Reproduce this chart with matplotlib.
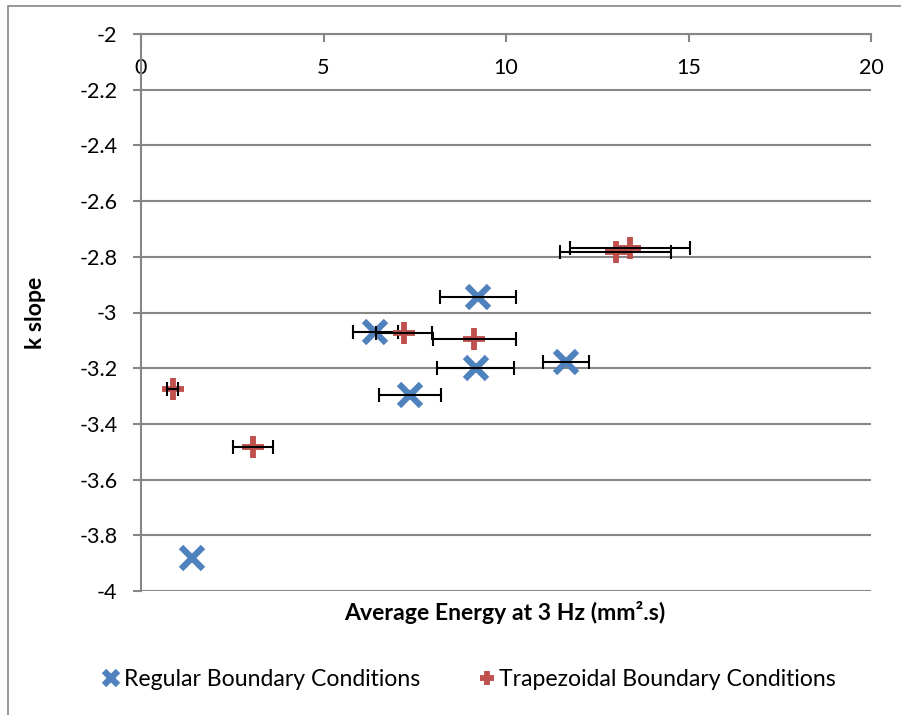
import numpy as np
import matplotlib.pyplot as plt
from matplotlib.patches import Rectangle

# Regular boundary conditions
reg_x = [1.41, 6.42, 7.38, 9.24, 9.17, 11.64]
reg_y = [-3.883, -3.071, -3.296, -2.945, -3.199, -3.179]
reg_xerr = [0.0, 0.62, 0.85, 1.04, 1.06, 0.63]

# Trapezoidal boundary conditions
trap_x = [0.87, 3.06, 7.21, 9.13, 13.0, 13.39]
trap_y = [-3.275, -3.483, -3.075, -3.095, -2.784, -2.770]
trap_xerr = [0.15, 0.55, 0.77, 1.14, 1.53, 1.64]

x_ticks = [0, 5, 10, 15, 20]
y_ticks = [-2, -2.2, -2.4, -2.6, -2.8, -3, -3.2, -3.4, -3.6, -3.8, -4]

blue = '#4F81BD'
red = '#C0504D'
grid_col = '#868686'
fs = 15.5
fs_lab = 16.6

plt.rcParams['font.family'] = ['Lato', 'DejaVu Sans']
plt.rcParams['axes.unicode_minus'] = False

fig = plt.figure(figsize=(9.01, 7.15), dpi=100)
ax = fig.add_axes([141 / 901, 1 - 591 / 715, 730 / 901, 557 / 715])

# outer chart border (cropped on right/bottom)
fig.patches.append(Rectangle((8 / 901, -0.1), 2, 1 - 6 / 715 + 0.1,
                             transform=fig.transFigure, fill=False,
                             edgecolor=grid_col, lw=1.2))

ax.set_xlim(0, 20)
ax.set_ylim(-4, -2)
ax.set_xticks(x_ticks)
ax.set_yticks(y_ticks)
ax.set_yticklabels([f'{v:g}' for v in y_ticks])
ax.yaxis.grid(True, color=grid_col, lw=1.5)
ax.set_axisbelow(True)

for s in ['top', 'right']:
    ax.spines[s].set_visible(False)
ax.spines['bottom'].set_position(('data', -2))
ax.spines['bottom'].set_color(grid_col)
ax.spines['bottom'].set_linewidth(1.5)
ax.spines['left'].set_color(grid_col)
ax.spines['left'].set_linewidth(1.5)
ax.tick_params(axis='x', direction='out', length=6, width=1.5, color=grid_col,
               pad=11, labelsize=fs)
ax.tick_params(axis='y', direction='out', length=6, width=1.5, color=grid_col,
               pad=11, labelsize=fs)

ax.plot(reg_x, reg_y, ls='none', marker='x', ms=16, mew=4.5, color=blue,
        zorder=3, clip_on=False, label='Regular Boundary Conditions')
rx = np.array(reg_x)
ry = np.array(reg_y)
re = np.array(reg_xerr)
m = re > 0
ax.errorbar(rx[m], ry[m], xerr=re[m], fmt='none', ecolor='black',
            elinewidth=1.5, capsize=5, capthick=1.5, zorder=4)
ax.plot(trap_x, trap_y, ls='none', marker='+', ms=16, mew=4.2, color=red,
        zorder=5, clip_on=False, label='Trapezoidal Boundary Conditions')
ax.errorbar(trap_x, trap_y, xerr=trap_xerr, fmt='none', ecolor='black',
            elinewidth=1.5, capsize=5, capthick=1.5, zorder=6)

fig.text(35 / 901, 1 - 313 / 715, 'k slope', rotation=90, ha='center',
         va='center', fontsize=fs_lab, fontweight='bold')
fig.text(505 / 901, 1 - 612 / 715, 'Average Energy at 3 Hz (mm².s)',
         ha='center', va='center', fontsize=fs_lab, fontweight='bold')

handles, labels = ax.get_legend_handles_labels()
leg = fig.legend(handles, labels, loc='center', ncol=2,
                 bbox_to_anchor=(470 / 901, 1 - 680 / 715), frameon=False,
                 fontsize=fs_lab, handlelength=0.6, handletextpad=0.25,
                 columnspacing=2.6, markerscale=0.6)

fig.savefig('out.png', dpi=100)
